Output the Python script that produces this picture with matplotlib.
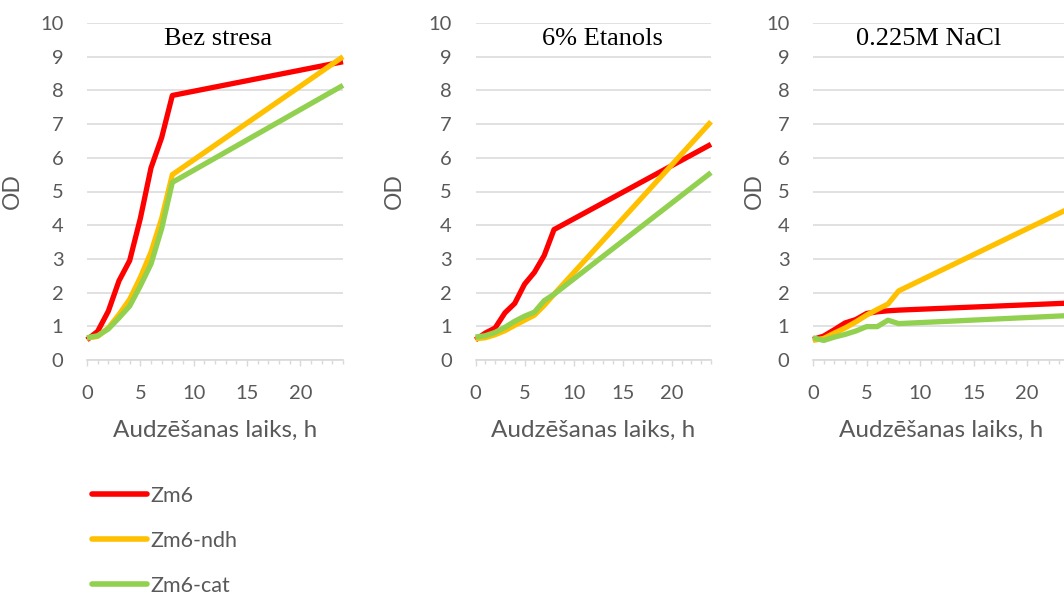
"""Growth curves of Zm6 strains under three conditions."""

import matplotlib
matplotlib.use('Agg')
import matplotlib.pyplot as plt
from matplotlib.ticker import MultipleLocator

# sampling times, h
HOURS = [0, 1, 2, 3, 4, 5, 6, 7, 8, 24]

# OD values: no stress
BASE_ZM6 = [0.6, 0.85, 1.45, 2.35, 2.95, 4.2, 5.7, 6.6, 7.85, 8.85]
BASE_NDH = [0.65, 0.7, 0.95, 1.35, 1.8, 2.45, 3.2, 4.2, 5.5, 9.0]
BASE_CAT = [0.66, 0.72, 0.92, 1.25, 1.6, 2.2, 2.85, 3.9, 5.27, 8.15]

# OD values: 6% ethanol
ETH_ZM6 = [0.6, 0.8, 0.95, 1.4, 1.68, 2.25, 2.6, 3.1, 3.87, 6.4]
ETH_NDH = [0.63, 0.66, 0.75, 0.87, 1.03, 1.18, 1.33, 1.62, 1.95, 7.07]
ETH_CAT = [0.68, 0.72, 0.82, 0.97, 1.15, 1.3, 1.42, 1.76, 1.95, 5.56]

# OD values: 0.225M NaCl
NACL_ZM6 = [0.61, 0.71, 0.9, 1.1, 1.2, 1.38, 1.43, 1.46, 1.48, 1.69]
NACL_NDH = [0.58, 0.64, 0.8, 0.95, 1.13, 1.33, 1.5, 1.66, 2.05, 4.51]
NACL_CAT = [0.66, 0.58, 0.68, 0.76, 0.86, 0.99, 0.99, 1.18, 1.08, 1.32]

TITLES = ['Bez stresa', '6% Etanols', '0.225M NaCl']
SERIES = ['Zm6', 'Zm6-ndh', 'Zm6-cat']
COLORS = ['#FF0000', '#FFC000', '#92D050']

PANELS = [
    (BASE_ZM6, BASE_NDH, BASE_CAT),
    (ETH_ZM6, ETH_NDH, ETH_CAT),
    (NACL_ZM6, NACL_NDH, NACL_CAT),
]

W, H = 1064, 596
GREY = '#D9D9D9'
TEXT = '#595959'

plt.rcParams['font.family'] = ['Lato', 'DejaVu Sans']

fig = plt.figure(figsize=(W / 100, H / 100), dpi=100)

# axes boxes in pixels: left, right edge; y=0 at 360, y=10 at 23
boxes = [(87, 343), (475.5, 711), (813, 1070)]
title_x = [218, 602, 928.5]
od_x = [23, 405, 765]
y0, y10 = 360, 23

axes = []
for i, (left, right) in enumerate(boxes):
    ax = fig.add_axes([left / W, (H - y0) / H, (right - left) / W, (y0 - y10) / H])
    axes.append(ax)
    for vals, name, col in zip(PANELS[i], SERIES, COLORS):
        ax.plot(HOURS, vals, color=col, lw=3.8, label=name,
                solid_joinstyle='round', solid_capstyle='butt', clip_on=False)

    ax.set_xlim(0, 24)
    ax.set_ylim(0, 10)
    ax.xaxis.set_major_locator(MultipleLocator(5))
    ax.xaxis.set_minor_locator(MultipleLocator(1))
    ax.yaxis.set_major_locator(MultipleLocator(1))
    ax.set_xticks([0, 5, 10, 15, 20])

    for side in ('top', 'right', 'left'):
        ax.spines[side].set_visible(False)
    ax.spines['bottom'].set_color(GREY)
    ax.spines['bottom'].set_linewidth(1.2)
    ax.grid(axis='y', color=GREY, lw=1.1)
    ax.set_axisbelow(True)

    ax.tick_params(axis='x', which='major', length=4, width=1, color=GREY,
                   labelsize=14.5, labelcolor=TEXT, pad=14)
    ax.tick_params(axis='x', which='minor', length=3, width=1, color=GREY)
    ax.tick_params(axis='y', length=0, labelsize=14.5, labelcolor=TEXT, pad=17)

    width_px = right - left
    ax.set_xlabel('Audzēšanas laiks, h', fontsize=17.5, color=TEXT)
    ax.xaxis.set_label_coords(0.5, -60 / (y0 - y10))
    ax.set_ylabel('OD', fontsize=16.5, color=TEXT)
    ax.yaxis.set_label_coords(-(left - od_x[i]) / width_px, 0.5)

    ax.text((title_x[i] - left) / width_px, (y0 - 45) / (y0 - y10), TITLES[i],
            transform=ax.transAxes, ha='center', va='baseline',
            fontsize=19, family='Liberation Serif', color='black')

handles, labels = axes[0].get_legend_handles_labels()
leg = fig.legend(handles, labels, loc='upper left',
                 bbox_to_anchor=(92 / W, (H - 486) / H),
                 frameon=False, fontsize=15.5, handlelength=2.55,
                 handletextpad=0.15, labelspacing=1.15,
                 borderpad=0, borderaxespad=0)
for line in leg.get_lines():
    line.set_solid_capstyle('round')
    line.set_linewidth(4)
for t in leg.get_texts():
    t.set_color(TEXT)

fig.savefig('out.png', dpi=100)
